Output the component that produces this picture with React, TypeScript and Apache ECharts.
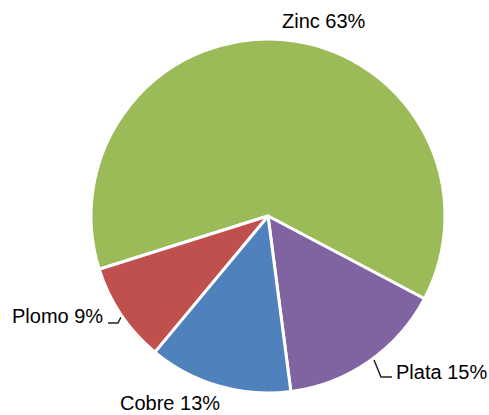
import React, { useEffect, useRef } from "react";
import * as echarts from "echarts";

const categories = ["Zinc", "Plata", "Cobre", "Plomo"];
const values = [62.6, 15.2, 13.1, 9.1];
const colors = ["#9BBB59", "#8064A2", "#4F81BD", "#C0504D"];

// label anchor spots (layout only)
const labelSpots: Record<string, { x: number; y: number; line?: number[][] }> = {
  Zinc: { x: 282, y: 21 },
  Plata: { x: 396, y: 372, line: [[374, 360], [381, 377], [392, 377]] },
  Cobre: { x: 120, y: 403 },
  Plomo: { x: 12, y: 316, line: [[121, 317], [118, 323], [108, 323]] },
};

export default function App() {
  const ref = useRef<HTMLDivElement>(null);
  useEffect(() => {
    if (!ref.current) return;
    const chart = echarts.init(ref.current, undefined, { renderer: "svg" });
    chart.setOption({
      animation: false,
      backgroundColor: "#ffffff",
      series: [
        {
          type: "pie",
          center: [268, 216],
          radius: 177,
          startAngle: 197.5,
          clockwise: true,
          avoidLabelOverlap: false,
          itemStyle: { borderColor: "#ffffff", borderWidth: 3 },
          label: {
            show: true,
            position: "outside",
            formatter: (p: any) => `${p.name} ${Math.round(p.value)}%`,
            fontFamily: "Liberation Sans, Arial, sans-serif",
            fontSize: 20,
            color: "#000000",
          },
          labelLine: { show: true, lineStyle: { color: "#222222", width: 1.5 } },
          labelLayout: (params: any) => {
            const name = categories[params.dataIndex];
            const s = labelSpots[name];
            const res: any = { x: s.x, y: s.y, align: "left", verticalAlign: "middle" };
            if (s.line) res.labelLinePoints = s.line;
            return res;
          },
          data: categories.map((name, i) => ({
            name,
            value: values[i],
            itemStyle: { color: colors[i] },
            labelLine: { show: !!labelSpots[name].line },
          })),
        },
      ],
    });
    return () => chart.dispose();
  }, []);
  return (
    <div
      ref={ref}
      style={{ position: "fixed", left: 0, top: 0, width: 489, height: 415 }}
    />
  );
}
